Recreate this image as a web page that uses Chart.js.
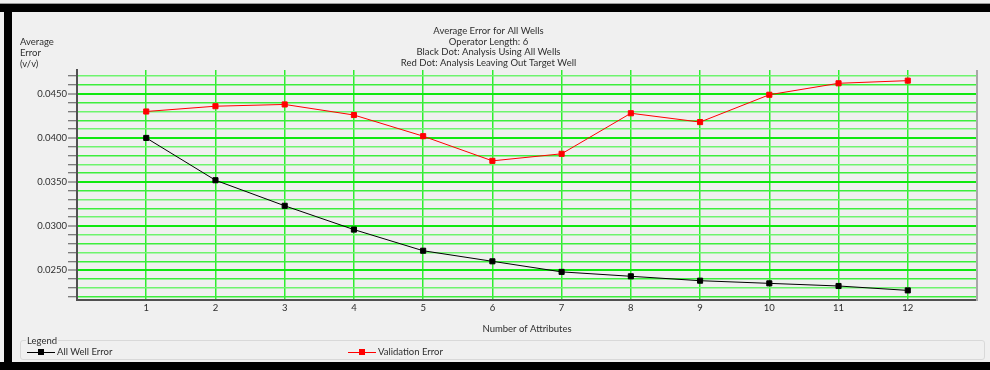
<!DOCTYPE html>
<html>
<head>
<meta charset="utf-8">
<script src="https://cdn.jsdelivr.net/npm/chart.js@4.4.1/dist/chart.umd.min.js"></script>
<style>
  html, body { margin:0; padding:0; background:#f0f0f0; width:990px; height:370px; overflow:hidden; font-family: Lato, "Liberation Sans", sans-serif; color:#2e2e2e; }
  #wrap { position:relative; width:990px; height:370px; }
  canvas { position:absolute; left:0; top:0; }
  .bar { position:absolute; background:#000; }
  #ytitle { position:absolute; left:20px; top:36px; font-size:9.5px; line-height:11px; }
  #legendBox { position:absolute; left:20px; top:340px; width:963px; height:18px; border:1px solid #d9d9d9; border-radius:3px; }
  #legendTitle { position:absolute; left:26px; top:335px; font-size:9.5px; line-height:12px; background:#f0f0f0; padding:0 1px; }
  .item { position:absolute; top:346px; height:12px; font-size:9.5px; line-height:12px; white-space:nowrap; }
  .item .ln { position:absolute; left:0; top:5.5px; width:28px; height:1px; }
  .item .sq { position:absolute; left:11px; top:3px; width:6px; height:6px; }
  .item .tx { position:absolute; left:30px; top:0; }
</style>
</head>
<body>
<div id="wrap">
  <canvas id="c" width="990" height="370"></canvas>
  <div class="bar" style="left:0;top:3px;width:990px;height:1px;background:#9a9a9a"></div>
  <div class="bar" style="left:0;top:4px;width:990px;height:8px"></div>
  <div class="bar" style="left:4px;top:4px;width:8px;height:366px"></div>
  <div class="bar" style="left:0;top:362px;width:990px;height:8px"></div>
  <div id="ytitle">Average<br>Error<br>(v/v)</div>
  <div id="legendBox"></div>
  <div id="legendTitle">Legend</div>
  <div id="legendItems"></div>
</div>
<script>
const attributes = [1, 2, 3, 4, 5, 6, 7, 8, 9, 10, 11, 12];
const allWellError = [0.0400, 0.0352, 0.0323, 0.0296, 0.0272, 0.0260, 0.0248, 0.0243, 0.0238, 0.0235, 0.0232, 0.0227];
const validationError = [0.0430, 0.0436, 0.0438, 0.0426, 0.0402, 0.0374, 0.0382, 0.0428, 0.0418, 0.0449, 0.0462, 0.0465];
const seriesNames = ['All Well Error', 'Validation Error'];
const titleLines = ['Average Error for All Wells', 'Operator Length: 6', 'Black Dot: Analysis Using All Wells', 'Red Dot: Analysis Leaving Out Target Well'];
const xTitle = 'Number of Attributes';

const FONT = 'Lato, "Liberation Sans", sans-serif';
const FS = 9.5;

function pts(vals) { return attributes.map((a, i) => ({ x: a, y: vals[i] })); }
function isMajor(v) { return Math.round(v * 10000) % 50 === 0; }

const rightBorder = {
  id: 'rightBorder',
  afterDraw(chart) {
    const { ctx, chartArea: a } = chart;
    ctx.save();
    ctx.strokeStyle = '#a8a8a8';
    ctx.lineWidth = 2;
    ctx.beginPath();
    ctx.moveTo(a.right, a.top);
    ctx.lineTo(a.right, a.bottom + 1);
    ctx.stroke();
    ctx.restore();
  }
};

const chart = new Chart(document.getElementById('c'), {
  type: 'line',
  data: {
    datasets: [
      { label: seriesNames[0], data: pts(allWellError), borderColor: '#000', backgroundColor: '#000', borderWidth: 1,
        pointStyle: 'rect', pointRadius: 3.6, pointBorderWidth: 1, pointBackgroundColor: '#000', pointBorderColor: '#000' },
      { label: seriesNames[1], data: pts(validationError), borderColor: '#ff0000', backgroundColor: '#ff0000', borderWidth: 1,
        pointStyle: 'rect', pointRadius: 3.6, pointBorderWidth: 1, pointBackgroundColor: '#ff0000', pointBorderColor: '#ff0000' }
    ]
  },
  options: {
    responsive: false,
    devicePixelRatio: 1,
    animation: false,
    layout: { padding: { left: 0, right: 13, top: 0, bottom: 30 } },
    plugins: {
      legend: { display: false },
      tooltip: { enabled: false },
      title: {
        display: true, text: titleLines, color: '#2e2e2e',
        font: { family: FONT, size: FS, lineHeight: 1.126, weight: 'normal' },
        padding: { top: 25.5, bottom: 1.7 }
      }
    },
    scales: {
      x: {
        type: 'linear', min: 0, max: 13,
        afterFit(s) { s.height = 40; },
        ticks: { stepSize: 1, autoSkip: false, padding: 2, color: '#2e2e2e', font: { family: FONT, size: FS }, maxRotation: 0,
          callback: v => (v >= 1 && v <= 12) ? String(v) : '' },
        grid: { drawTicks: false, lineWidth: 1.5,
          color: ctx => (ctx.tick && ctx.tick.value >= 1 && ctx.tick.value <= 12) ? '#30ee30' : 'rgba(0,0,0,0)' },
        border: { color: '#505050', width: 2 },
        title: { display: true, text: xTitle, color: '#2e2e2e', font: { family: FONT, size: FS, lineHeight: 1.2 }, padding: { top: 0, bottom: 5 } }
      },
      y: {
        type: 'linear', min: 0.02161, max: 0.04771,
        afterFit(s) { s.width = 77; },
        ticks: { stepSize: 0.001, includeBounds: false, autoSkip: false, padding: 1, color: '#2e2e2e', font: { family: FONT, size: FS },
          callback: v => isMajor(v) ? v.toFixed(4) : '' },
        grid: {
          drawTicks: true, tickLength: 9, tickColor: '#555', tickWidth: 1,
          color: ctx => (ctx.tick && isMajor(ctx.tick.value)) ? '#10e810' : (Math.round(ctx.tick.value * 1000) % 2 === 0 ? '#3cee3c' : '#6ef46e'),
          lineWidth: ctx => (ctx.tick && isMajor(ctx.tick.value)) ? 2 : 1.5
        },
        border: { color: '#505050', width: 2 }
      }
    }
  },
  plugins: [rightBorder]
});

// Legend items built from dataset names/colours
const legendX = [27, 348];
const colors = ['#000', '#ff0000'];
const li = document.getElementById('legendItems');
seriesNames.forEach((n, i) => {
  const d = document.createElement('div');
  d.className = 'item';
  d.style.left = legendX[i] + 'px';
  d.innerHTML = '<div class="ln" style="background:' + colors[i] + '"></div><div class="sq" style="background:' + colors[i] + '"></div><div class="tx"></div>';
  d.querySelector('.tx').textContent = n;
  li.appendChild(d);
});
</script>
</body>
</html>
